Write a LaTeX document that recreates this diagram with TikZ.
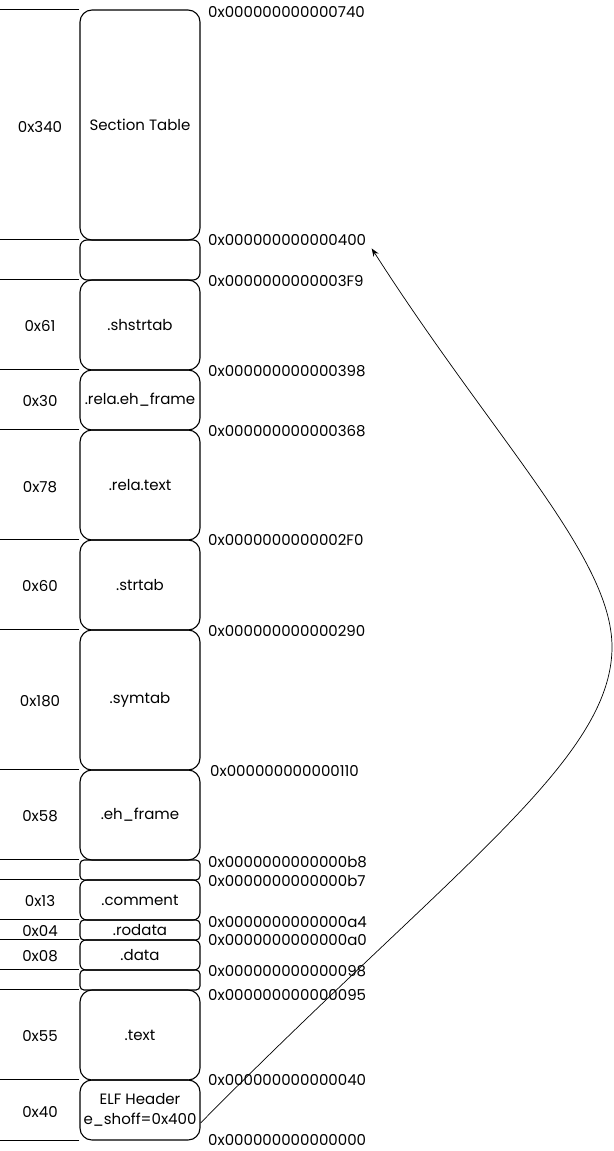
\documentclass[tikz,border=0pt]{standalone}
\usepackage{fontspec}
\setmainfont{Poppins}
\usetikzlibrary{arrows.meta}
\begin{document}
\begin{tikzpicture}[x=1pt,y=-1pt,
  seg/.style={shape=rectangle,draw,line width=1.1pt,rounded corners=12pt,minimum width=120pt,inner sep=0pt,align=center,font=\fontsize{15}{20}\selectfont},
  sizelbl/.style={inner sep=0pt,font=\fontsize{15}{18}\selectfont},
  addrlbl/.style={anchor=west,inner sep=0pt,font=\fontsize{15}{18}\selectfont}]
\useasboundingbox (0,0) rectangle (613,1151);
% sections, from the end of the file down to offset 0
\node[seg,minimum height=230pt] (shtab) at (140,125) {Section Table};
\node[seg,minimum height=40pt,rounded corners=7pt] (gapa) at (140,260) {};
\node[seg,minimum height=90pt] (shstrtab) at (140,325) {.shstrtab};
\node[seg,minimum height=60pt] (relaeh) at (140,400) {.rela.eh\_frame};
\node[seg,minimum height=110pt] (relatext) at (140,485) {.rela.text};
\node[seg,minimum height=90pt] (strtab) at (140,585) {.strtab};
\node[seg,minimum height=140pt] (symtab) at (140,700) {.symtab};
\node[seg,minimum height=90pt] (ehframe) at (140,815) {.eh\_frame};
\node[seg,minimum height=20pt,rounded corners=4pt] (gapb) at (140,870) {};
\node[seg,minimum height=40pt,rounded corners=7pt] (comment) at (140,900) {.comment};
\node[seg,minimum height=20pt,rounded corners=4pt] (rodata) at (140,930) {.rodata};
\node[seg,minimum height=30pt,rounded corners=6pt] (data) at (140,955) {.data};
\node[seg,minimum height=20pt,rounded corners=4pt] (gapc) at (140,980) {};
\node[seg,minimum height=90pt] (text) at (140,1035) {.text};
\node[seg,minimum height=60pt] (elfhdr) at (140,1110) {ELF Header\\e\_shoff=0x400};

% sizes
\node[sizelbl] (sz340) at (40,127) {0x340};
\node[sizelbl] (sz61) at (40,326) {0x61};
\node[sizelbl] (sz30) at (40,401) {0x30};
\node[sizelbl] (sz78) at (40,487) {0x78};
\node[sizelbl] (sz60) at (40,586) {0x60};
\node[sizelbl] (sz180) at (40,701) {0x180};
\node[sizelbl] (sz58) at (40,816) {0x58};
\node[sizelbl] (sz13) at (40,901) {0x13};
\node[sizelbl] (sz04) at (40,931) {0x04};
\node[sizelbl] (sz08) at (40,956) {0x08};
\node[sizelbl] (sz55) at (40,1036) {0x55};
\node[sizelbl] (sz40) at (40,1112) {0x40};

% offsets
\node[addrlbl] (a740) at (208,12) {0x000000000000740};
\node[addrlbl] (a400) at (208,240) {0x000000000000400};
\node[addrlbl] (a3f9) at (208,281) {0x0000000000003F9};
\node[addrlbl] (a398) at (208,371) {0x000000000000398};
\node[addrlbl] (a368) at (208,431) {0x000000000000368};
\node[addrlbl] (a2f0) at (208,540) {0x0000000000002F0};
\node[addrlbl] (a290) at (208,631) {0x000000000000290};
\node[addrlbl] (a110) at (210,771) {0x000000000000110};
\node[addrlbl] (ab8) at (208,862) {0x0000000000000b8};
\node[addrlbl] (ab7) at (208,881) {0x0000000000000b7};
\node[addrlbl] (aa4) at (208,922) {0x0000000000000a4};
\node[addrlbl] (aa0) at (208,940) {0x0000000000000a0};
\node[addrlbl] (a098) at (208,971) {0x000000000000098};
\node[addrlbl] (a095) at (208,995) {0x000000000000095};
\node[addrlbl] (a040) at (208,1080) {0x000000000000040};
\node[addrlbl] (a000) at (208,1140) {0x000000000000000};

% size column dividers
\draw[line width=1.1pt] (shtab.north west) to ++(-80,0);
\draw[line width=1.1pt] (gapa.north west) to ++(-80,0);
\draw[line width=1.1pt] (shstrtab.north west) to ++(-80,0);
\draw[line width=1.1pt] (relaeh.north west) to ++(-80,0);
\draw[line width=1.1pt] (relatext.north west) to ++(-80,0);
\draw[line width=1.1pt] (strtab.north west) to ++(-80,0);
\draw[line width=1.1pt] (symtab.north west) to ++(-80,0);
\draw[line width=1.1pt] (ehframe.north west) to ++(-80,0);
\draw[line width=1.1pt] (gapb.north west) to ++(-80,0);
\draw[line width=1.1pt] (comment.north west) to ++(-80,0);
\draw[line width=1.1pt] (rodata.north west) to ++(-80,0);
\draw[line width=1.1pt] (data.north west) to ++(-80,0);
\draw[line width=1.1pt] (gapc.north west) to ++(-80,0);
\draw[line width=1.1pt] (text.north west) to ++(-80,0);
\draw[line width=1.1pt] (elfhdr.north west) to ++(-80,0);
\draw[line width=1.1pt] (elfhdr.south west) to ++(-80,0);

% e_shoff points at the section table
\coordinate (bend) at (612,647);
\draw[-{Stealth[length=8pt,width=6pt]},line width=0.7pt,shorten >=10pt] ([yshift=-13pt]elfhdr.east) .. controls +(250,-253) and +(0,113) .. (bend) .. controls +(0,-90) and +(128,200) .. (a400.east);
\end{tikzpicture}
\end{document}
